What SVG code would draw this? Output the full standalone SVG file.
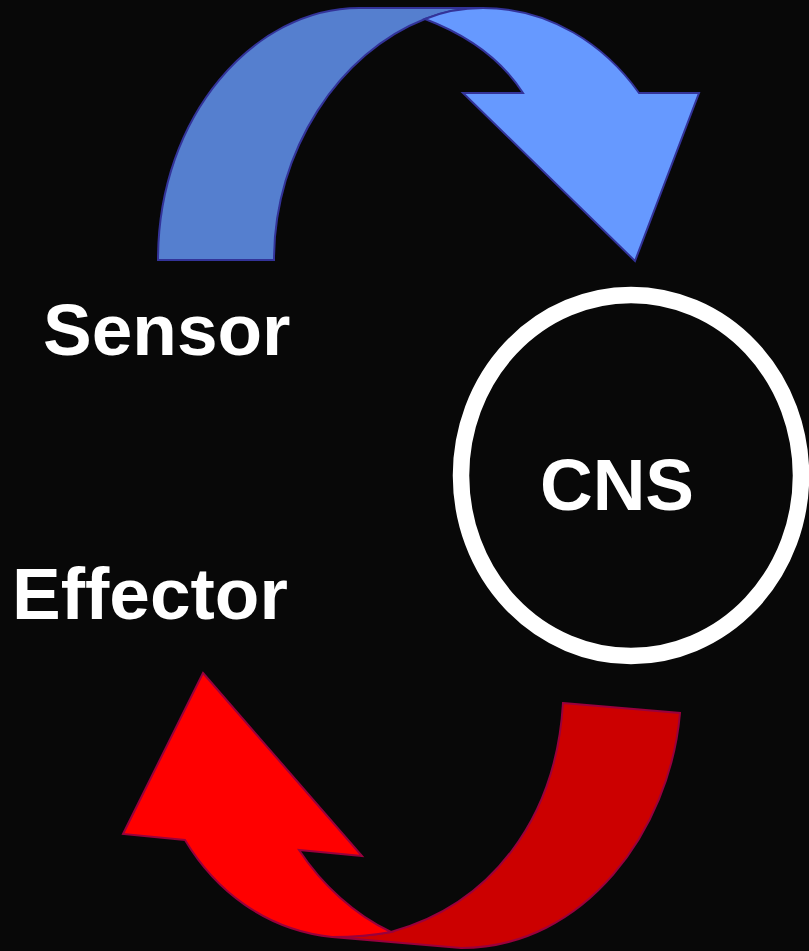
<svg xmlns="http://www.w3.org/2000/svg" width="809" height="951" viewBox="0 0 809 951">
<style>
.lbl{font-family:"Liberation Sans",Arial,sans-serif;font-weight:bold;font-size:73px;fill:#ffffff}
.blue{stroke:#333399;stroke-width:2;stroke-linejoin:miter}
.red{stroke:#99003d;stroke-width:2;stroke-linejoin:miter}
</style>
<rect width="809" height="951" fill="#080808"/>
<g id="connectors">
<g id="sensor-arrow">
<path class="blue" fill="#557fcf" d="M158,260 C158,115 255,8 359,8 L483,8 C460,8 442,12 425,19 C340,52 274,150 274,260 Z"/>
<path class="blue" fill="#6699ff" d="M425,19 C442,12 460,8 483,8 C550,8 605,45 639,93 L699,93 L635,261 L463,93 L523,93 C505,65 475,38 425,19 Z"/>
</g>
<g id="effector-arrow">
<path class="red" fill="#cc0000" d="M563,703 L680,713 C670,830 585,948 461,948 L332,937 C355,937 375,935 391,932 C490,905 556,820 563,703 Z"/>
<path class="red" fill="#ff0000" d="M203,673 L362,856 L299,850 C322,885 355,915 391,932 C375,935 355,937 332,937 C265,930 215,890 185,840 L123,834 Z"/>
</g>
</g>
<g id="sensor"><text class="lbl" x="43" y="355">Sensor</text></g>
<g id="effector"><text class="lbl" x="12" y="619">Effector</text></g>
<g id="cns">
<ellipse cx="631" cy="475.5" rx="170" ry="180.5" fill="none" stroke="#ffffff" stroke-width="16.5"/>
<text class="lbl" x="617" y="510" text-anchor="middle">CNS</text>
</g>
</svg>
